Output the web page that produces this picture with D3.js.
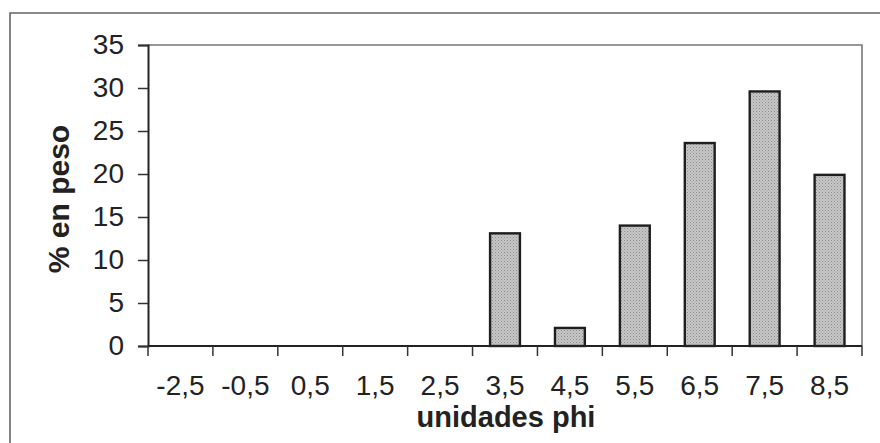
<!DOCTYPE html>
<html><head><meta charset="utf-8">
<script src="https://cdn.jsdelivr.net/npm/d3@7"></script>
<style>body{margin:0;background:#fff}svg{display:block}text{font-family:"Liberation Sans",Arial,sans-serif;fill:#222}</style>
</head><body>
<script>
const categories = ["-2,5","-0,5","0,5","1,5","2,5","3,5","4,5","5,5","6,5","7,5","8,5"];
const values = [0,0,0,0,0,13.1,2.1,14.0,23.6,29.6,19.9];
const yTicks = [0,5,10,15,20,25,30,35];
const xTitle = "unidades phi";
const yTitle = "% en peso";

const W = 880, H = 443;
const m = {left:148, right:862, top:45, bottom:346};
const svg = d3.select("body").append("svg").attr("width",W).attr("height",H);

// outer frame (left and top visible)
svg.append("path").attr("d",`M10,${H+2} L10,13 L${W+2},13`).attr("fill","none").attr("stroke","#666").attr("stroke-width",1.6);

const x = d3.scaleBand().domain(categories).range([m.left,m.right]).paddingInner(0.54).paddingOuter(0.27);
const xb = d3.scaleBand().domain(categories).range([m.left,m.right]);
const y = d3.scaleLinear().domain([0,35]).range([m.bottom,m.top]);

// plot frame top/right
svg.append("path").attr("d",`M${m.left},${m.top} L${m.right},${m.top} L${m.right},${m.bottom}`)
  .attr("fill","none").attr("stroke","#777").attr("stroke-width",1.6);

// pattern
const defs = svg.append("defs");
const pat = defs.append("pattern").attr("id","dots").attr("width",3).attr("height",3).attr("patternUnits","userSpaceOnUse");
pat.append("rect").attr("width",3).attr("height",3).attr("fill","#c8c8c8");
pat.append("rect").attr("x",0).attr("y",0).attr("width",1).attr("height",1).attr("fill","#8a8a8a");
pat.append("rect").attr("x",1.5).attr("y",1.5).attr("width",1).attr("height",1).attr("fill","#9a9a9a");

// bars
const barData = values.map((v,i)=>({c:categories[i],v})).filter(d=>d.v>0);
svg.append("g").selectAll("rect").data(barData)
  .join("rect")
  .attr("x",d=>x(d.c)).attr("width",x.bandwidth())
  .attr("y",d=>y(d.v)).attr("height",d=>y(0)-y(d.v))
  .attr("fill","url(#dots)").attr("stroke","#1e1e1e").attr("stroke-width",2.4);

// y axis
const ya = svg.append("g").attr("transform",`translate(${m.left},0)`)
  .call(d3.axisLeft(y).tickValues(yTicks).tickSize(10).tickPadding(14).tickFormat(d3.format("d")));
ya.select(".domain").attr("stroke","#222").attr("stroke-width",2);
ya.selectAll(".tick line").attr("stroke","#333").attr("stroke-width",1.5);
ya.selectAll("text").style("font-size","28px").attr("fill","#222");

// x axis: ticks at category boundaries
const boundaries = categories.map(c=>xb(c)).concat([m.right]);
svg.append("line").attr("x1",m.left).attr("x2",m.right).attr("y1",m.bottom).attr("y2",m.bottom).attr("stroke","#222").attr("stroke-width",2);
svg.append("g").selectAll("line").data(boundaries).join("line")
  .attr("x1",d=>d).attr("x2",d=>d).attr("y1",m.bottom).attr("y2",m.bottom+10).attr("stroke","#333").attr("stroke-width",1.5);
svg.append("g").selectAll("text").data(categories).join("text")
  .attr("x",d=>xb(d)+xb.bandwidth()/2).attr("y",395).attr("text-anchor","middle")
  .style("font-size","28px").text(d=>d);

// titles
svg.append("text").attr("x",506).attr("y",427).attr("text-anchor","middle")
  .style("font-size","29px").style("font-weight","bold").text(xTitle);
svg.append("text").attr("transform","translate(69,199) rotate(-90)").attr("text-anchor","middle")
  .style("font-size","30px").style("font-weight","bold").text(yTitle);
</script>
</body></html>
